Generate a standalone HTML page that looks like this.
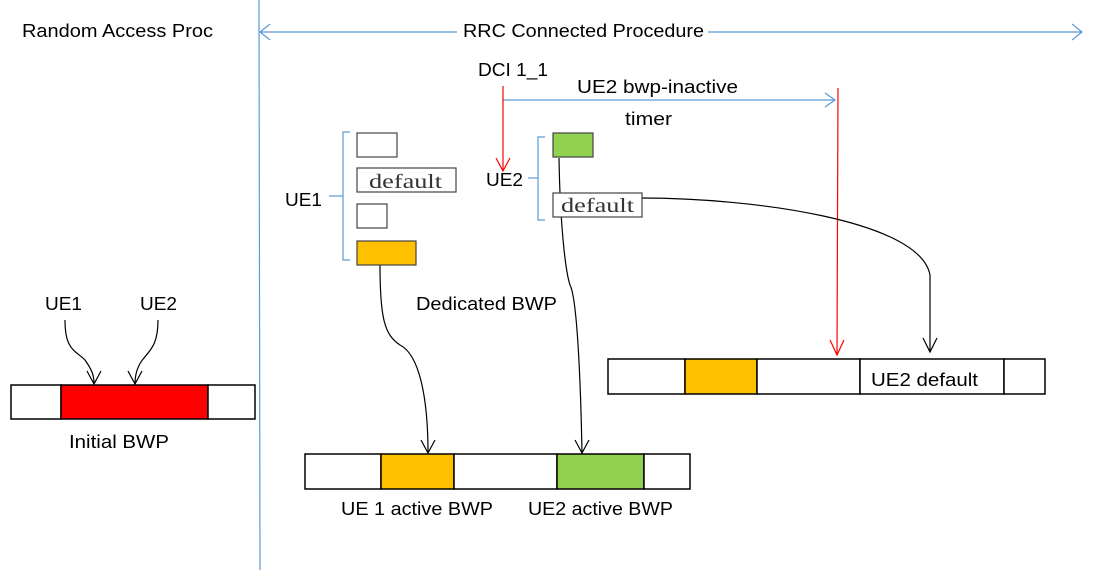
<!DOCTYPE html>
<html><head><meta charset="utf-8"><style>
html,body{margin:0;padding:0;background:#fff;}
svg{display:block;}
text{font-family:"Liberation Sans",sans-serif;font-size:18px;fill:#000;}
.m{font-family:"Liberation Serif",serif;font-size:20px;fill:#333;}
</style></head><body>
<svg width="1100" height="579" viewBox="0 0 1100 579" xmlns="http://www.w3.org/2000/svg">
<g fill="none" stroke-width="1.2">
<line x1="259" y1="0" x2="260" y2="570" stroke="#5b9bd5"/>
<line x1="260" y1="32" x2="457" y2="32" stroke="#5b9bd5"/>
<line x1="708" y1="32" x2="1082" y2="32" stroke="#5b9bd5"/>
<polyline points="270,24 260,32 270,40" stroke="#5b9bd5"/>
<polyline points="1072,24 1082,32 1072,40" stroke="#5b9bd5"/>
<line x1="503" y1="100" x2="835" y2="100" stroke="#5b9bd5"/>
<polyline points="825,93 835,100 825,107" stroke="#5b9bd5"/>
<line x1="503" y1="86" x2="503" y2="171" stroke="#f00"/>
<polyline points="496,158 503,171 510,158" stroke="#f00"/>
<line x1="838" y1="88" x2="837" y2="355" stroke="#f00"/>
<polyline points="830,340 837,355 844,340" stroke="#f00"/>
<polyline points="350,132 343,132 343,260 350,260" stroke="#5b9bd5"/>
<line x1="329" y1="196" x2="343" y2="196" stroke="#5b9bd5"/>
<polyline points="545,137 538,137 538,220 545,220" stroke="#5b9bd5"/>
<line x1="528" y1="178" x2="538" y2="178" stroke="#5b9bd5"/>
<path d="M380,265 C380,320 385,335 400,345 C420,355 428,400 428,453" stroke="#000"/>
<polyline points="421,440 428,453 435,440" stroke="#000"/>
<path d="M559,158 C560,220 565,270 570,285 C578,300 581,400 582,453" stroke="#000"/>
<polyline points="575,440 582,453 589,440" stroke="#000"/>
<path d="M642,198 C750,198 920,220 930,275 L930,352" stroke="#000"/>
<polyline points="923,338 930,352 937,338" stroke="#000"/>
<path d="M65,320 C65,350 75,350 85,360 C92,370 94,375 94,384" stroke="#000"/>
<polyline points="87,371 94,384 101,371" stroke="#000"/>
<path d="M158,320 C158,345 150,350 144,358 C137,366 135,375 135,384" stroke="#000"/>
<polyline points="128,371 135,384 142,371" stroke="#000"/>
</g>
<g stroke="#444" stroke-width="1.2">
<rect x="357" y="133" width="40" height="24" fill="#fff"/>
<rect x="357" y="168" width="99" height="24" fill="#fff"/>
<rect x="357" y="204" width="30" height="24" fill="#fff"/>
<rect x="357" y="241" width="59" height="24" fill="#ffc000"/>
<rect x="553" y="133" width="40" height="24" fill="#92d050"/>
<rect x="553" y="193" width="89" height="24" fill="#fff"/>
</g>
<text class="m" x="369" y="188" textLength="73" lengthAdjust="spacingAndGlyphs">default</text>
<text class="m" x="561" y="212" textLength="73" lengthAdjust="spacingAndGlyphs">default</text>
<g stroke="#000" stroke-width="1.5">
<rect x="11" y="385" width="50" height="34" fill="#fff"/>
<rect x="61" y="385" width="147" height="34" fill="#f00"/>
<rect x="208" y="385" width="47" height="34" fill="#fff"/>
<rect x="305" y="454" width="76" height="35" fill="#fff"/>
<rect x="381" y="454" width="73" height="35" fill="#ffc000"/>
<rect x="454" y="454" width="103" height="35" fill="#fff"/>
<rect x="557" y="454" width="87" height="35" fill="#92d050"/>
<rect x="644" y="454" width="46" height="35" fill="#fff"/>
<rect x="608" y="359" width="77" height="35" fill="#fff"/>
<rect x="685" y="359" width="72" height="35" fill="#ffc000"/>
<rect x="757" y="359" width="103" height="35" fill="#fff"/>
<rect x="860" y="359" width="144" height="35" fill="#fff"/>
<rect x="1004" y="359" width="41" height="35" fill="#fff"/>
</g>
<text x="22" y="37" textLength="191" lengthAdjust="spacingAndGlyphs">Random Access Proc</text>
<text x="463" y="37" textLength="241" lengthAdjust="spacingAndGlyphs">RRC Connected Procedure</text>
<text x="478" y="76" textLength="70" lengthAdjust="spacingAndGlyphs">DCI 1_1</text>
<text x="577" y="93" textLength="161" lengthAdjust="spacingAndGlyphs">UE2 bwp-inactive</text>
<text x="625" y="125" textLength="47" lengthAdjust="spacingAndGlyphs">timer</text>
<text x="285" y="206" textLength="37" lengthAdjust="spacingAndGlyphs">UE1</text>
<text x="486" y="186" textLength="37" lengthAdjust="spacingAndGlyphs">UE2</text>
<text x="416" y="310" textLength="141" lengthAdjust="spacingAndGlyphs">Dedicated BWP</text>
<text x="45" y="310" textLength="37" lengthAdjust="spacingAndGlyphs">UE1</text>
<text x="140" y="310" textLength="37" lengthAdjust="spacingAndGlyphs">UE2</text>
<text x="69" y="448" textLength="100" lengthAdjust="spacingAndGlyphs">Initial BWP</text>
<text x="341" y="515" textLength="152" lengthAdjust="spacingAndGlyphs">UE 1 active BWP</text>
<text x="528" y="515" textLength="145" lengthAdjust="spacingAndGlyphs">UE2 active BWP</text>
<text x="871" y="386" textLength="107" lengthAdjust="spacingAndGlyphs">UE2 default</text>
</svg>
</body></html>
